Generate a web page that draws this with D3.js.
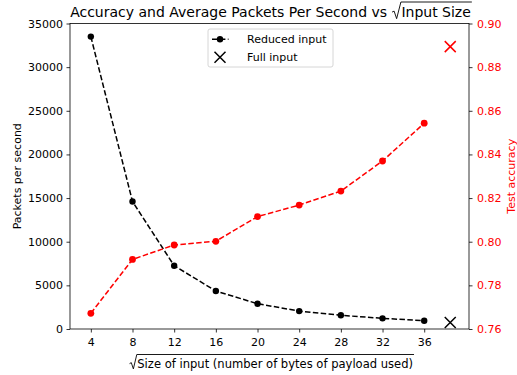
<!DOCTYPE html>
<html>
<head>
<meta charset="utf-8">
<script src="https://cdn.jsdelivr.net/npm/d3@7"></script>
<style>
  body { margin: 0; background: #fff; }
  svg { font-family: "DejaVu Sans", sans-serif; }
</style>
</head>
<body>
<div id="chart"></div>
<script>
// data
var inputSizes = [4, 8, 12, 16, 20, 24, 28, 32, 36];
var packetsPerSec = [33500, 14600, 7250, 4350, 2900, 2050, 1570, 1220, 950];
var accuracy = [0.7672, 0.7919, 0.7985, 0.8002, 0.8115, 0.8168, 0.8232, 0.837, 0.8543];
var fullInputSize = 38.5;
var fullPackets = 750;
var fullAccuracy = 0.8894;
var xTicks = [4, 8, 12, 16, 20, 24, 28, 32, 36];
var leftTicks = [0, 5000, 10000, 15000, 20000, 25000, 30000, 35000];
var rightTicks = [0.76, 0.78, 0.80, 0.82, 0.84, 0.86, 0.88, 0.90];

var svgWidth = 517, svgHeight = 375;
var margin = { top: 23.5, right: 48, bottom: 46, left: 70 };
var width = svgWidth - margin.left - margin.right;
var height = svgHeight - margin.top - margin.bottom;

var svg = d3.select("#chart")
  .append("svg")
  .attr("width", svgWidth)
  .attr("height", svgHeight);

var chartGroup = svg.append("g")
  .attr("transform", `translate(${margin.left}, ${margin.top})`);

// scales
var xScale = d3.scaleLinear().domain([2.0, 40.3]).range([0, width]);
var yLeft = d3.scaleLinear().domain([0, 35000]).range([height, 0]);
var yRight = d3.scaleLinear().domain([0.76, 0.90]).range([height, 0]);

// axes
var bottomAxis = d3.axisBottom(xScale).tickValues(xTicks).tickSize(3.5).tickPadding(5.5);
var leftAxis = d3.axisLeft(yLeft).tickValues(leftTicks).tickSize(3.5).tickPadding(3.5).tickFormat(d3.format("d"));
var rightAxis = d3.axisRight(yRight).tickValues(rightTicks).tickSize(3.5).tickPadding(4.5).tickFormat(d3.format(".2f"));

var gx = chartGroup.append("g").attr("transform", `translate(0, ${height})`).call(bottomAxis);
var gl = chartGroup.append("g").call(leftAxis);
var gr = chartGroup.append("g").attr("transform", `translate(${width}, 0)`).call(rightAxis);

[gx, gl, gr].forEach(function(g) {
  g.selectAll("text").attr("font-size", "11px").attr("font-family", "DejaVu Sans").attr("fill", "#000");
  g.select(".domain").remove();
  g.selectAll(".tick line").attr("stroke", "#000").attr("stroke-width", 0.8);
});
gr.selectAll("text").attr("fill", "red");

// frame
chartGroup.append("rect")
  .attr("width", width)
  .attr("height", height)
  .attr("fill", "none")
  .attr("stroke", "#000")
  .attr("stroke-width", 0.8);

// packets per second (black)
var lineLeft = d3.line()
  .x((d, i) => xScale(inputSizes[i]))
  .y(d => yLeft(d));

chartGroup.append("path")
  .datum(packetsPerSec)
  .attr("d", lineLeft)
  .attr("fill", "none")
  .attr("stroke", "#000")
  .attr("stroke-width", 1.5)
  .attr("stroke-dasharray", "5.5,2.4");

chartGroup.selectAll(".dotBlack")
  .data(packetsPerSec)
  .enter()
  .append("circle")
  .attr("cx", (d, i) => xScale(inputSizes[i]))
  .attr("cy", d => yLeft(d))
  .attr("r", 3.2)
  .attr("fill", "#000");

var xMark = "M-5.5,-5.5L5.5,5.5M-5.5,5.5L5.5,-5.5";

chartGroup.append("path")
  .attr("d", xMark)
  .attr("transform", `translate(${xScale(fullInputSize)}, ${yLeft(fullPackets)})`)
  .attr("stroke", "#000")
  .attr("stroke-width", 1.5)
  .attr("fill", "none");

// accuracy (red)
var lineRight = d3.line()
  .x((d, i) => xScale(inputSizes[i]))
  .y(d => yRight(d));

chartGroup.append("path")
  .datum(accuracy)
  .attr("d", lineRight)
  .attr("fill", "none")
  .attr("stroke", "red")
  .attr("stroke-width", 1.5)
  .attr("stroke-dasharray", "5.5,2.4");

chartGroup.selectAll(".dotRed")
  .data(accuracy)
  .enter()
  .append("circle")
  .attr("cx", (d, i) => xScale(inputSizes[i]))
  .attr("cy", d => yRight(d))
  .attr("r", 3.4)
  .attr("fill", "red");

chartGroup.append("path")
  .attr("d", xMark)
  .attr("transform", `translate(${xScale(fullInputSize)}, ${yRight(fullAccuracy)})`)
  .attr("stroke", "red")
  .attr("stroke-width", 1.5)
  .attr("fill", "none");

// text with a square-root sign over part of it
function sqrtText(parent, prefix, radicand, cx, baseline, size, ovTop) {
  var g = parent.append("g");
  var t1 = g.append("text").attr("font-size", size + "px").attr("y", baseline).text(prefix);
  var t2 = g.append("text").attr("font-size", size + "px").attr("y", baseline).text(radicand);
  var w1 = prefix ? t1.node().getComputedTextLength() + size * 0.3 : 0;
  var w2 = t2.node().getComputedTextLength();
  var rw = size * 0.72;
  var total = w1 + rw + w2;
  var x0 = cx - total / 2;
  t1.attr("x", x0);
  var rx = x0 + w1;
  t2.attr("x", rx + rw);
  var mid = baseline - size * 0.42;
  g.append("path")
    .attr("d", `M${rx + size * 0.05},${mid + 1} L${rx + size * 0.2},${mid} L${rx + size * 0.38},${baseline + size * 0.12} L${rx + rw - 0.5},${ovTop} L${rx + rw + w2 + 1},${ovTop}`)
    .attr("fill", "none")
    .attr("stroke", "#000")
    .attr("stroke-width", 0.9);
  return g;
}

sqrtText(svg, "Accuracy and Average Packets Per Second vs", "Input Size",
  margin.left + width / 2 + 1, 17, 14, 2);

sqrtText(svg, "", "Size of input (number of bytes of payload used)",
  margin.left + width / 2 + 1.5, 367.5, 11.55, 354.5);

// y labels
svg.append("text")
  .attr("transform", `translate(20.7, ${margin.top + height / 2}) rotate(-90)`)
  .attr("text-anchor", "middle")
  .attr("font-size", "11px")
  .text("Packets per second");

svg.append("text")
  .attr("transform", `translate(514.5, ${margin.top + height / 2}) rotate(-90)`)
  .attr("text-anchor", "middle")
  .attr("font-size", "11px")
  .attr("fill", "red")
  .text("Test accuracy");

// legend
var legend = svg.append("g").attr("transform", "translate(208, 29)");
legend.append("rect")
  .attr("width", 125)
  .attr("height", 38)
  .attr("rx", 2)
  .attr("fill", "#fff")
  .attr("fill-opacity", 0.8)
  .attr("stroke", "#ccc")
  .attr("stroke-width", 0.8);
legend.append("line")
  .attr("x1", 4).attr("x2", 20.5).attr("y1", 10.3).attr("y2", 10.3)
  .attr("stroke", "#000").attr("stroke-width", 1.5).attr("stroke-dasharray", "5.5,2.4");
legend.append("circle").attr("cx", 12).attr("cy", 10.3).attr("r", 3.2).attr("fill", "#000");
legend.append("path")
  .attr("d", xMark)
  .attr("transform", "translate(12, 28.3)")
  .attr("stroke", "#000").attr("stroke-width", 1.5).attr("fill", "none");
legend.append("text").attr("x", 39).attr("y", 14.3).attr("font-size", "11px").text("Reduced input");
legend.append("text").attr("x", 39).attr("y", 32.3).attr("font-size", "11px").text("Full input");
</script>
</body>
</html>
